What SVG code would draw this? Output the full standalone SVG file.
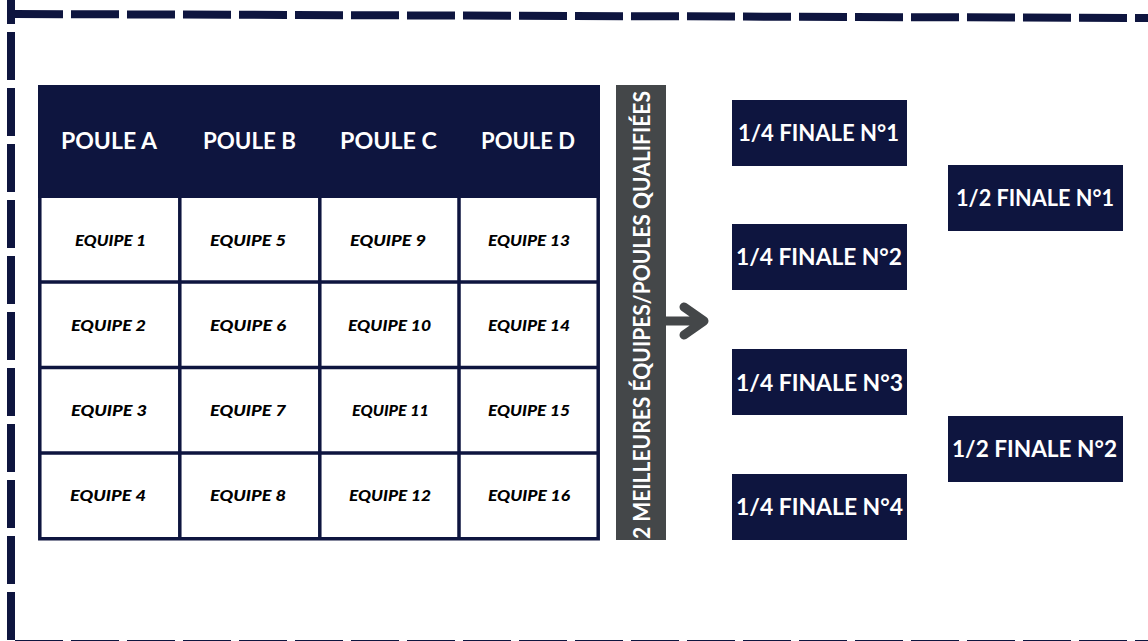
<svg xmlns="http://www.w3.org/2000/svg" width="1148" height="641" viewBox="0 0 1148 641">
<style>
.n{fill:#0e153f}
.h{font:700 23.5px "Lato","Liberation Sans",sans-serif;fill:#fff;text-anchor:start}
.e{font:italic 900 15.5px "Lato","Liberation Sans",sans-serif;fill:#000;text-anchor:start}
.b{font:700 23.5px "Lato","Liberation Sans",sans-serif;fill:#fff;text-anchor:start}
.d{fill:none;stroke:#0e153f;stroke-width:8;stroke-dasharray:48 8}
.g{fill:none;stroke:#0e153f;stroke-width:3.5}
</style>
<rect width="1148" height="641" fill="#fff"/>
<g id="frame">
<path class="d" d="M15 14L1148 18"/>
<path class="d" d="M11 -24V641"/>
<path class="d" d="M15 644H1148"/>
</g>
<g id="table">
<rect class="n" x="38" y="85" width="562" height="113"/>
<path class="g" d="M39.8 198V538.8H598.2V198M179.8 198V538.8M319.8 198V538.8M459 198V538.8M39.8 282H598.2M39.8 367.5H598.2M39.8 453H598.2"/>
<text class="h" x="61" y="149" textLength="96" lengthAdjust="spacingAndGlyphs">POULE A</text>
<text class="h" x="203" y="149" textLength="93" lengthAdjust="spacingAndGlyphs">POULE B</text>
<text class="h" x="340" y="149" textLength="97" lengthAdjust="spacingAndGlyphs">POULE C</text>
<text class="h" x="481" y="149" textLength="94" lengthAdjust="spacingAndGlyphs">POULE D</text>
<text class="e" x="75" y="245.5" textLength="71" lengthAdjust="spacingAndGlyphs">EQUIPE 1</text>
<text class="e" x="210" y="245.5" textLength="76" lengthAdjust="spacingAndGlyphs">EQUIPE 5</text>
<text class="e" x="350" y="245.5" textLength="76" lengthAdjust="spacingAndGlyphs">EQUIPE 9</text>
<text class="e" x="488" y="245.5" textLength="82" lengthAdjust="spacingAndGlyphs">EQUIPE 13</text>
<text class="e" x="71" y="331" textLength="75" lengthAdjust="spacingAndGlyphs">EQUIPE 2</text>
<text class="e" x="210" y="331" textLength="76" lengthAdjust="spacingAndGlyphs">EQUIPE 6</text>
<text class="e" x="348" y="331" textLength="83" lengthAdjust="spacingAndGlyphs">EQUIPE 10</text>
<text class="e" x="488" y="331" textLength="82" lengthAdjust="spacingAndGlyphs">EQUIPE 14</text>
<text class="e" x="71" y="416" textLength="76" lengthAdjust="spacingAndGlyphs">EQUIPE 3</text>
<text class="e" x="210" y="416" textLength="76" lengthAdjust="spacingAndGlyphs">EQUIPE 7</text>
<text class="e" x="352" y="416" textLength="77" lengthAdjust="spacingAndGlyphs">EQUIPE 11</text>
<text class="e" x="488" y="416" textLength="82" lengthAdjust="spacingAndGlyphs">EQUIPE 15</text>
<text class="e" x="70" y="501" textLength="76" lengthAdjust="spacingAndGlyphs">EQUIPE 4</text>
<text class="e" x="210" y="501" textLength="76" lengthAdjust="spacingAndGlyphs">EQUIPE 8</text>
<text class="e" x="349" y="501" textLength="82" lengthAdjust="spacingAndGlyphs">EQUIPE 12</text>
<text class="e" x="488" y="501" textLength="82" lengthAdjust="spacingAndGlyphs">EQUIPE 16</text>
</g>
<g id="qualified">
<rect x="616" y="85" width="50" height="455" fill="#444749"/>
<text class="b" transform="translate(650 539) rotate(-90)" x="0" y="0" textLength="448" lengthAdjust="spacingAndGlyphs">2 MEILLEURES ÉQUIPES/POULES QUALIFIÉES</text>
</g>
<g id="connectors">
<path d="M666 321H702M684 307L704 321L684 335" fill="none" stroke="#444749" stroke-width="9" stroke-linecap="round" stroke-linejoin="round"/>
</g>
<g id="qf1"><rect class="n" x="732" y="100" width="175" height="66"/><text class="b" x="738" y="141" textLength="161" lengthAdjust="spacingAndGlyphs">1/4 FINALE N°1</text></g>
<g id="qf2"><rect class="n" x="732" y="224" width="175" height="66"/><text class="b" x="736" y="265" textLength="166" lengthAdjust="spacingAndGlyphs">1/4 FINALE N°2</text></g>
<g id="qf3"><rect class="n" x="732" y="349" width="175" height="66"/><text class="b" x="736" y="391" textLength="167" lengthAdjust="spacingAndGlyphs">1/4 FINALE N°3</text></g>
<g id="qf4"><rect class="n" x="732" y="474" width="175" height="66"/><text class="b" x="736" y="515" textLength="167" lengthAdjust="spacingAndGlyphs">1/4 FINALE N°4</text></g>
<g id="sf1"><rect class="n" x="948" y="165" width="175" height="66"/><text class="b" x="956" y="206" textLength="158" lengthAdjust="spacingAndGlyphs">1/2 FINALE N°1</text></g>
<g id="sf2"><rect class="n" x="948" y="416" width="175" height="66"/><text class="b" x="952" y="457" textLength="165" lengthAdjust="spacingAndGlyphs">1/2 FINALE N°2</text></g>
</svg>
